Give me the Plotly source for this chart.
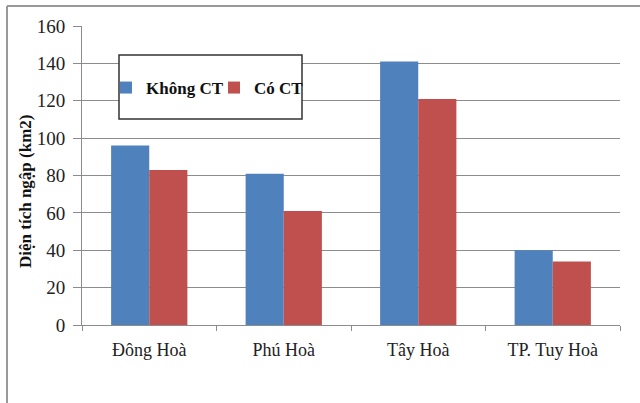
import plotly.graph_objects as go

categories = ["Đông Hoà", "Phú Hoà", "Tây Hoà", "TP. Tuy Hoà"]
khong_ct = [96, 81, 141, 40]
co_ct = [83, 61, 121, 34]
series_names = ["Không CT", "Có CT"]
y_ticks = [0, 20, 40, 60, 80, 100, 120, 140, 160]
y_title = "Diện tích ngập (km2)"

FONT = "Liberation Serif"

fig = go.Figure()
fig.add_trace(go.Bar(x=categories, y=khong_ct, name=series_names[0], legend="legend",
                     marker=dict(color="#4F81BD", line=dict(width=0))))
fig.add_trace(go.Bar(x=categories, y=co_ct, name=series_names[1], legend="legend2",
                     marker=dict(color="#C0504D", line=dict(width=0))))

L, R, T, B = 82, 20, 26, 78
pw = 640 - L - R
ph = 403 - T - B

def px(x):
    return (x - L) / pw

def py(y):
    return 1 - (y - T) / ph

leg_common = dict(orientation="h", y=py(88), xanchor="left", yanchor="middle",
                  bgcolor="rgba(0,0,0,0)", borderwidth=0, itemwidth=30,
                  font=dict(family=FONT, size=17, color="#111111", weight="bold"))

fig.update_layout(
    width=640, height=403,
    margin=dict(l=L, r=R, t=T, b=B, autoexpand=False),
    paper_bgcolor="white", plot_bgcolor="white",
    barmode="group", bargap=0.433, bargroupgap=0,
    font=dict(family=FONT, color="#222222", size=16),
    showlegend=True,
    legend=dict(x=px(106), **leg_common),
    legend2=dict(x=px(214), **leg_common),
    xaxis=dict(showline=True, linecolor="#8c8c8c", linewidth=1, automargin=False,
               ticks="outside", tickson="boundaries", ticklen=5, tickcolor="#8c8c8c",
               ticklabelstandoff=8,
               showgrid=False, tickfont=dict(family=FONT, size=18, color="#222222")),
    yaxis=dict(range=[0, 160], tickvals=y_ticks, showline=True, linecolor="#8c8c8c",
               linewidth=1, ticks="outside", ticklen=8, tickcolor="#8c8c8c",
               ticklabelstandoff=4,
               gridcolor="#8c8c8c", gridwidth=1, zeroline=False, automargin=False,
               tickfont=dict(family=FONT, size=19, color="#222222")),
    annotations=[
        dict(text=y_title, xref="paper", yref="paper", x=px(25), y=py(192),
             xanchor="center", yanchor="middle", textangle=-90, showarrow=False,
             font=dict(family=FONT, size=17, color="#111111", weight="bold")),
    ],
    shapes=[
        dict(type="rect", xref="paper", yref="paper", x0=px(119), x1=px(302),
             y0=py(119), y1=py(55), line=dict(color="#333333", width=1.5),
             fillcolor="white", layer="above"),
        dict(type="line", xref="paper", yref="paper", x0=px(7), x1=px(7),
             y0=py(6), y1=py(420), line=dict(color="#999999", width=2)),
        dict(type="line", xref="paper", yref="paper", x0=px(7), x1=px(660),
             y0=py(6), y1=py(6), line=dict(color="#999999", width=2)),
    ],
)

fig.write_html("out.html", config={"displayModeBar": False},
               post_script="document.body.style.margin='0';")
